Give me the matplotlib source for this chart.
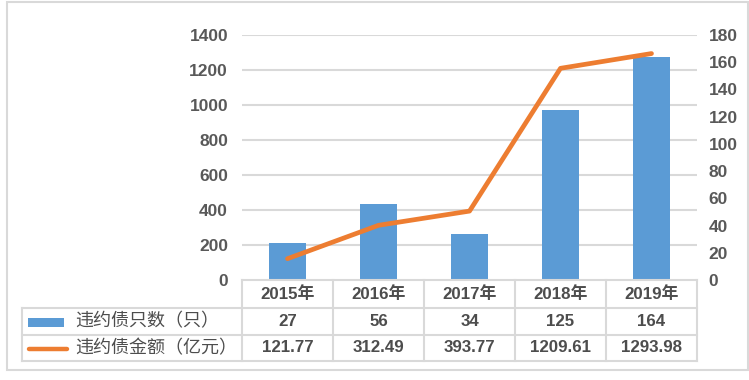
import matplotlib
matplotlib.use("Agg")
import matplotlib.pyplot as plt
import matplotlib.transforms as mtransforms
from matplotlib.lines import Line2D
from matplotlib.patches import Rectangle

# ---- data ----
years = ["2015年", "2016年", "2017年", "2018年", "2019年"]
bond_counts = [27, 56, 34, 125, 164]                       # 违约债只数（只） -> right axis
bond_amounts = [121.77, 312.49, 393.77, 1209.61, 1293.98]  # 违约债金额（亿元） -> left axis
count_label = "违约债只数（只）"
amount_label = "违约债金额（亿元）"
left_ticks = [0, 200, 400, 600, 800, 1000, 1200, 1400]
right_ticks = [0, 20, 40, 60, 80, 100, 120, 140, 160, 180]
count_text = ["27", "56", "34", "125", "164"]
amount_text = ["121.77", "312.49", "393.77", "1209.61", "1293.98"]

BLUE = "#5B9BD5"
ORANGE = "#ED7D31"
GRID = "#D9D9D9"
TXT = "#595959"
TXT_TAB = "#4D4D4D"
NUMFONT = ["Liberation Sans", "Noto Sans CJK SC", "DejaVu Sans"]
CJKFONT = ["Noto Sans CJK SC", "DejaVu Sans"]

W, H = 749, 380
fig = plt.figure(figsize=(W / 100, H / 100), dpi=100)

def fx(px):
    return px / W

def fy(py):
    return 1 - py / H

# plot area: x 242..697, y 35..280 (pixels from top)
ax = fig.add_axes([fx(242), fy(280), fx(697) - fx(242), fy(35) - fy(280)])
ax2 = ax.twinx()

x = list(range(len(years)))

# bars on right axis
ax2.bar(x, bond_counts, width=0.4, color=BLUE, zorder=2)
ax2.set_ylim(0, 180)
ax2.set_yticks(right_ticks)

# line on left axis
ax.set_ylim(0, 1400)
ax.set_yticks(left_ticks)
ax.set_xlim(-0.5, len(years) - 0.5)
ax.set_xticks([])
for t in left_ticks[1:]:
    ax.axhline(t, color=GRID, lw=1.5, zorder=0)

ax2.plot(x, [v * 180 / 1400 for v in bond_amounts], color=ORANGE, lw=3.4,
         solid_capstyle="round", solid_joinstyle="round", zorder=3)

for a in (ax, ax2):
    for s in a.spines.values():
        s.set_visible(False)
    a.tick_params(length=0)
    a.set_facecolor("none")
ax.tick_params(axis="y", pad=10, labelcolor=TXT)
ax2.tick_params(axis="y", pad=8.5, labelcolor=TXT)
for lab in ax.get_yticklabels() + ax2.get_yticklabels():
    lab.set_fontfamily(NUMFONT)
    lab.set_fontweight("bold")
    lab.set_fontsize(12.5)

# ---- data table ----
bt = mtransforms.blended_transform_factory(ax.transData, fig.transFigure)
row_top, row1, row2, row3 = 280, 308, 335, 361
lw_tab = 1.5
# horizontal lines
fig.add_artist(Line2D([fx(242), fx(697)], [fy(row_top)] * 2, color=GRID, lw=lw_tab))
for yy in (row1, row2, row3):
    fig.add_artist(Line2D([fx(22), fx(697)], [fy(yy)] * 2, color=GRID, lw=lw_tab))
# vertical lines
for i in range(len(years) + 1):
    fig.add_artist(Line2D([i - 0.5, i - 0.5], [fy(row_top), fy(row3)], color=GRID,
                          lw=lw_tab, transform=bt))
fig.add_artist(Line2D([fx(22), fx(22)], [fy(row1), fy(row3)], color=GRID, lw=lw_tab))

ymid_h = fy((row_top + row1) / 2)
ymid_1 = fy((row1 + row2) / 2)
ymid_2 = fy((row2 + row3) / 2)
for i in x:
    fig.text(i, ymid_h, years[i], transform=bt, ha="center", va="center",
             fontsize=12.2, fontweight="bold", family=NUMFONT, color=TXT_TAB)
    fig.text(i, ymid_1, count_text[i], transform=bt, ha="center", va="center",
             fontsize=12.2, fontweight="bold", family=NUMFONT, color=TXT_TAB)
    fig.text(i, ymid_2, amount_text[i], transform=bt, ha="center", va="center",
             fontsize=12.2, fontweight="bold", family=NUMFONT, color=TXT_TAB)

# legend keys
fig.add_artist(Rectangle((fx(28), fy(327)), fx(64) - fx(28), fy(318) - fy(327),
                         facecolor=BLUE, edgecolor="none", transform=fig.transFigure))
fig.add_artist(Line2D([fx(29), fx(67)], [fy(349)] * 2, color=ORANGE, lw=3.2,
                      solid_capstyle="round"))
fig.text(fx(75), ymid_1, count_label, ha="left", va="center", fontsize=13,
         family=CJKFONT, color=TXT_TAB)
fig.text(fx(75), ymid_2, amount_label, ha="left", va="center", fontsize=13,
         family=CJKFONT, color=TXT_TAB)

# outer border
fig.add_artist(Rectangle((fx(6.5), fy(370)), fx(748) - fx(6.5), fy(2) - fy(370),
                         facecolor="none", edgecolor=GRID, lw=1.5,
                         transform=fig.transFigure))

fig.savefig("out.png", dpi=100, facecolor="white")
